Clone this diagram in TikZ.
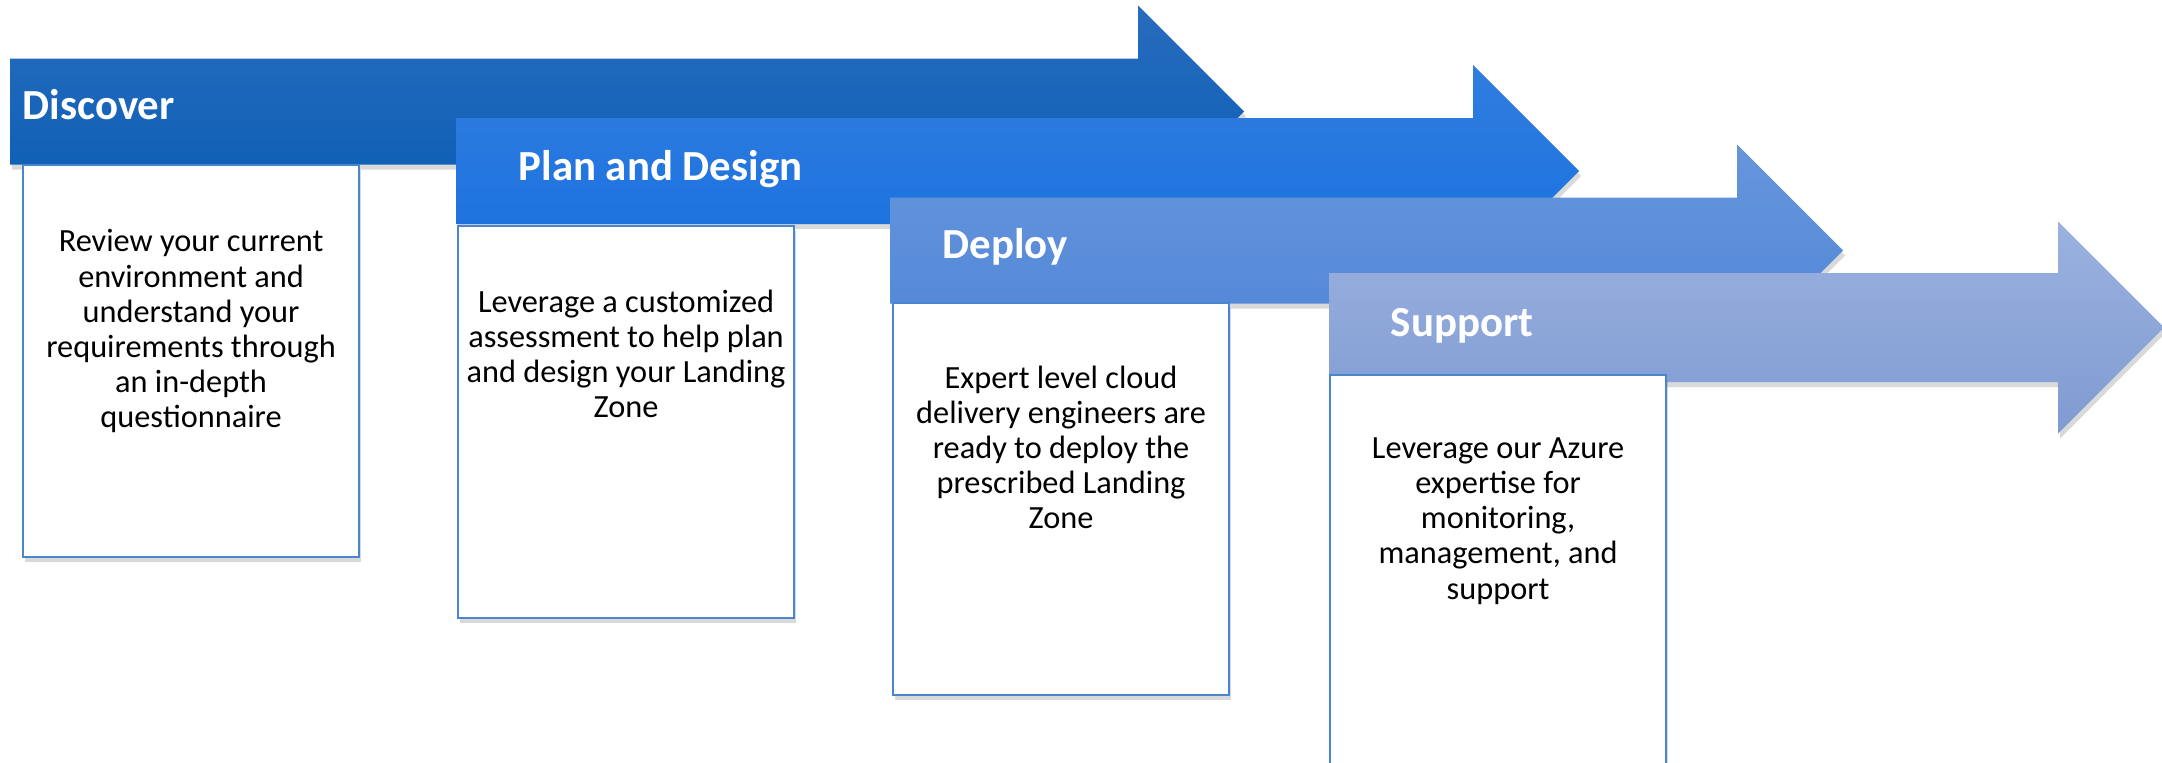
\documentclass[tikz,border=0pt]{standalone}
\usepackage{fontspec}
\setmainfont{Carlito}
\definecolor{discoverTop}{RGB}{40,108,190}
\definecolor{discoverBot}{RGB}{8,93,180}
\definecolor{planTop}{RGB}{48,125,224}
\definecolor{planBot}{RGB}{24,112,222}
\definecolor{deployTop}{RGB}{102,149,221}
\definecolor{deployBot}{RGB}{80,134,214}
\definecolor{supportTop}{RGB}{155,178,223}
\definecolor{supportBot}{RGB}{127,155,210}
\definecolor{cardBorder}{RGB}{74,134,208}
\usetikzlibrary{positioning,shadows}

\tikzset{
  phase/.style={drop shadow={shadow xshift=0.02cm, shadow yshift=-0.05cm, opacity=0.25, fill=black!60}},
  card/.style={rectangle, draw=cardBorder, line width=0.6pt, fill=white, minimum width=3.36cm, minimum height=3.92cm, anchor=north west, drop shadow={shadow xshift=0.02cm, shadow yshift=-0.05cm, opacity=0.25, fill=black!60}},
  title/.style={anchor=base west, text=white, font=\fontsize{12.2}{14}\selectfont\bfseries, inner sep=0pt},
  desc/.style={align=center, inner sep=0pt, font=\fontsize{9.2}{10}\selectfont}
}

\begin{document}
\begin{tikzpicture}
    \path[use as bounding box, clip] (0,0) rectangle (21.62,-7.62);

    % Discover
    \coordinate (discover) at (0.10,-1.115);
    \shade[phase, top color=discoverTop, bottom color=discoverBot] (discover) ++(0,0.53) -- ++(11.28,0) -- ++(0,0.53) -- ++(1.06,-1.06) -- ++(-1.06,-1.06) -- ++(0,0.53) -- ++(-11.28,0) -- cycle;
    \node[title] (discoverlbl) at ([xshift=0.12cm, yshift=-0.08cm]discover) {Discover};
    \node[card] (discovercard) at (0.22,-1.64) {};
    \node[desc, below=0.65cm of discovercard.north] (discovertxt) {Review your current\\environment and\\understand your\\requirements through\\an in-depth\\questionnaire};

    % Plan and Design
    \coordinate (plan) at (4.56,-1.71);
    \shade[phase, top color=planTop, bottom color=planBot] (plan) ++(0,0.53) -- ++(10.17,0) -- ++(0,0.53) -- ++(1.06,-1.06) -- ++(-1.06,-1.06) -- ++(0,0.53) -- ++(-10.17,0) -- cycle;
    \node[title] (planlbl) at ([xshift=0.62cm, yshift=-0.09cm]plan) {Plan and Design};
    \node[card] (plancard) at (4.57,-2.25) {};
    \node[desc, below=0.64cm of plancard.north] (plantxt) {Leverage a customized\\assessment to help plan\\and design your Landing\\Zone};

    % Deploy
    \coordinate (deploy) at (8.90,-2.505);
    \shade[phase, top color=deployTop, bottom color=deployBot] (deploy) ++(0,0.53) -- ++(8.47,0) -- ++(0,0.53) -- ++(1.06,-1.06) -- ++(-1.06,-1.06) -- ++(0,0.53) -- ++(-8.47,0) -- cycle;
    \node[title] (deploylbl) at ([xshift=0.52cm, yshift=-0.075cm]deploy) {Deploy};
    \node[card] (deploycard) at (8.92,-3.02) {};
    \node[desc, below=0.63cm of deploycard.north] (deploytxt) {Expert level cloud\\delivery engineers are\\ready to deploy the\\prescribed Landing\\Zone};

    % Support
    \coordinate (support) at (13.29,-3.275);
    \shade[phase, top color=supportTop, bottom color=supportBot] (support) ++(0,0.545) -- ++(7.29,0) -- ++(0,0.515) -- ++(1.06,-1.06) -- ++(-1.06,-1.06) -- ++(0,0.515) -- ++(-7.29,0) -- cycle;
    \node[title] (supportlbl) at ([xshift=0.61cm, yshift=-0.09cm]support) {Support};
    \node[card] (supportcard) at (13.29,-3.74) {};
    \node[desc, below=0.63cm of supportcard.north] (supporttxt) {Leverage our Azure\\expertise for\\monitoring,\\management, and\\support};
\end{tikzpicture}
\end{document}
